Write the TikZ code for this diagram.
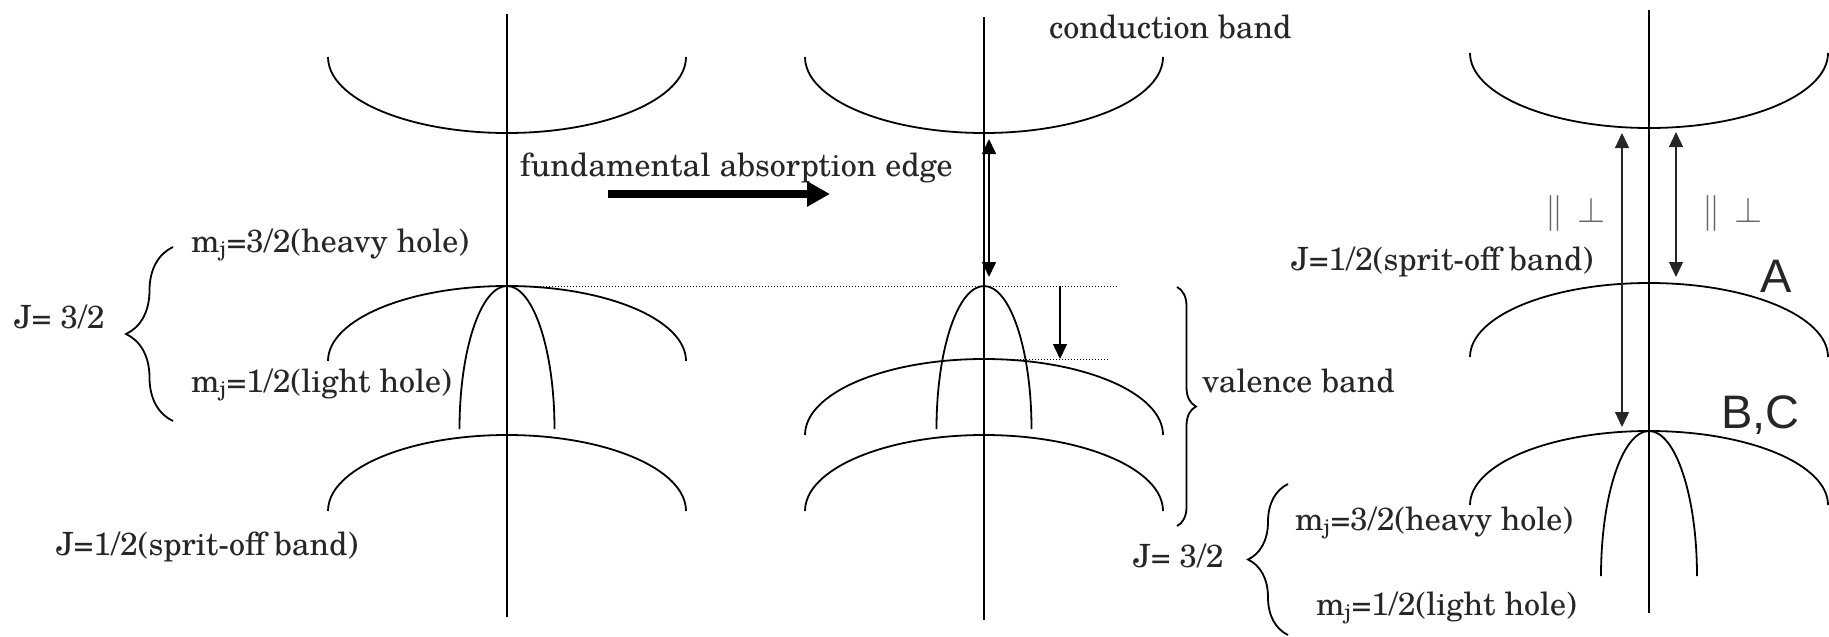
\RequirePackage{fix-cm}
\documentclass[tikz,border=0pt]{standalone}
\usepackage{fontspec}
\setmainfont{TeX Gyre Schola}
\newfontfamily\sansfnt{Liberation Sans}
\usetikzlibrary{arrows.meta,decorations.pathreplacing}
\definecolor{txt}{HTML}{262626}
\definecolor{sym}{HTML}{666666}
\tikzset{
  band/.style={line width=1.8pt},
  axisline/.style={line width=1.8pt},
  lbl/.style={anchor=base west, inner sep=0pt, text=txt, font=\fontsize{32}{38}\selectfont},
  biglbl/.style={anchor=base west, inner sep=0pt, text=txt, font=\sansfnt\fontsize{47}{56}\selectfont},
  symlbl/.style={anchor=base, inner sep=0pt, text=sym, font=\fontsize{36}{40}\selectfont},
  bracedec/.style={decorate, decoration={brace, amplitude=#1}, line width=1.8pt},
  dotline/.style={line width=1pt, dash pattern=on 1.2pt off 1.8pt},
  tri/.style={line width=1.6pt, {Triangle[length=15pt,width=14pt]}-{Triangle[length=15pt,width=14pt]}},
  trione/.style={line width=1.6pt, -{Triangle[length=15pt,width=14pt]}},
  grayarrow/.style={draw=txt, line width=1.3pt, {Triangle[length=15pt,width=14pt]}-{Triangle[length=15pt,width=14pt]}},
  bigarrow/.style={line width=8pt, -{Triangle[length=23pt,width=24pt]}},
}
\begin{document}
\begin{tikzpicture}[x=1pt,y=-1pt]
\useasboundingbox (0,0) rectangle (1829,637);

% ---------- panel 1 ----------
\coordinate (ax1t) at (507,14);
\coordinate (ax1b) at (507,617);
\draw[axisline] (ax1t) -- (ax1b);
\draw[band] (328,57) arc[start angle=180, end angle=0, x radius=179, y radius=76];
\draw[band] (328,361) arc[start angle=180, end angle=360, x radius=179, y radius=75];
\draw[band] (459.5,429) arc[start angle=180, end angle=360, x radius=47.5, y radius=143];
\draw[band] (328,511) arc[start angle=180, end angle=360, x radius=179, y radius=76];
\coordinate (pk1) at (507,286);

\draw[bracedec=47pt] (173,421) -- (173,247);
\node[lbl] (j1) at (14,328) {J= 3/2};
\node[lbl] (hh1) at (191,252) {m$_{\mathrm{j}}$=3/2(heavy hole)};
\node[lbl] (lh1) at (191,392) {m$_{\mathrm{j}}$=1/2(light hole)};
\node[lbl] (so1) at (56,555) {J=1/2(sprit-off band)};

% ---------- middle arrow ----------
\node[lbl] (fae) at (520,176) {fundamental absorption edge};
\coordinate (ba1) at (608,194);
\coordinate (ba2) at (830,194);
\draw[bigarrow] (ba1) -- (ba2);

% ---------- panel 2 ----------
\coordinate (ax2t) at (984,17);
\coordinate (ax2b) at (984,620);
\draw[axisline] (ax2t) -- (ax2b);
\draw[band] (805,57) arc[start angle=180, end angle=0, x radius=179, y radius=76];
\draw[band] (936.5,429) arc[start angle=180, end angle=360, x radius=47.5, y radius=143];
\draw[band] (805,435) arc[start angle=180, end angle=360, x radius=179, y radius=76];
\draw[band] (805,511) arc[start angle=180, end angle=360, x radius=179, y radius=76];
\coordinate (pk2) at (984,359);
\coordinate (d1e) at (1117,286);
\coordinate (d2e) at (1109,359);
\draw[dotline] (pk1) -- (d1e);
\draw[dotline] (pk2) -- (d2e);
\coordinate (da1) at (1060,286);
\coordinate (da2) at (1060,359);
\draw[trione] (da1) -- (da2);
\coordinate (ga1) at (989,139);
\coordinate (ga2) at (989,277);
\draw[tri] (ga1) -- (ga2);

\node[lbl] (cb) at (1049,38) {conduction band};
\draw[bracedec=19pt] (1177,287) -- (1177,526);
\node[lbl] (vb) at (1202,392) {valence band};

% ---------- panel 3 ----------
\coordinate (ax3t) at (1649,10);
\coordinate (ax3b) at (1649,613);
\draw[axisline] (ax3t) -- (ax3b);
\draw[band] (1470,53) arc[start angle=180, end angle=0, x radius=179, y radius=75];
\draw[band] (1470,357) arc[start angle=180, end angle=360, x radius=179, y radius=74];
\draw[band] (1470,505) arc[start angle=180, end angle=360, x radius=179, y radius=74];
\draw[band] (1601,576) arc[start angle=180, end angle=360, x radius=48, y radius=145];

\coordinate (la1) at (1622,133);
\coordinate (la2) at (1622,427);
\draw[grayarrow] (la1) -- (la2);
\coordinate (ra1) at (1676,132);
\coordinate (ra2) at (1676,277);
\draw[grayarrow] (ra1) -- (ra2);

\node[symlbl] (par1) at (1554,222) {$\parallel$};
\node[symlbl] (perp1) at (1591.5,222) {$\perp$};
\node[symlbl] (par2) at (1711,222) {$\parallel$};
\node[symlbl] (perp2) at (1748.5,222) {$\perp$};

\node[lbl] (so3) at (1291,270) {J=1/2(sprit-off band)};
\node[biglbl] (A) at (1760,292) {A};
\node[biglbl] (BC) at (1721,428) {B,C};

\node[lbl] (j2) at (1133,567) {J= 3/2};
\draw[bracedec=40pt] (1288,635) -- (1288,484);
\node[lbl] (hh2) at (1295,530) {m$_{\mathrm{j}}$=3/2(heavy hole)};
\node[lbl] (lh2) at (1316,615) {m$_{\mathrm{j}}$=1/2(light hole)};
\end{tikzpicture}
\end{document}
